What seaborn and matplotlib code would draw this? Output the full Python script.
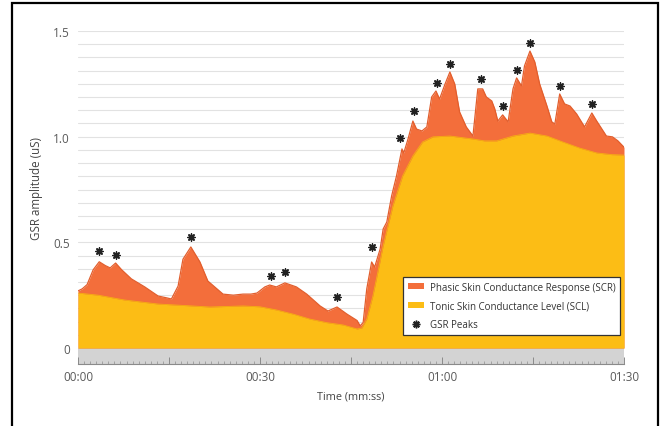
import numpy as np
import pandas as pd
import seaborn as sns
import matplotlib
matplotlib.use("Agg")
import matplotlib.pyplot as plt
from matplotlib.patches import Rectangle, Patch
from matplotlib.lines import Line2D
from matplotlib.ticker import FixedLocator, MultipleLocator, FuncFormatter

# ---------------- data ----------------
time_total = [0, 0.7, 1.5, 2.5, 3.5, 4.5, 5.3, 6.2, 7.2, 8.8, 11, 13.2, 14.5, 15.4,
              16.5, 17.3, 18.6, 20.1, 21.4, 23.9, 25.6, 27.2, 28.5, 29.5, 30.8, 31.6,
              32.7, 34.1, 36, 37.7, 39.9, 41.2, 42.7, 44.3, 46, 46.5, 47.0, 47.6, 48.4,
              48.9, 49.8, 50.3, 50.9, 51.7, 52.5, 53.4, 53.7, 54.4, 55.2, 55.8, 56.7,
              57.5, 58.3, 59, 59.6, 60.5, 61.3, 62.1, 62.9, 64, 65.1, 65.9, 66.7, 67.3,
              68.2, 68.7, 69.2, 70, 70.9, 71.7, 72.3, 73.1, 73.6, 74.5, 75.3, 76.1,
              77.3, 78.1, 78.6, 79.4, 80.2, 81.1, 82.2, 83.5, 84.7, 85.5, 87.1, 88.1,
              89, 90]
gsr_total = [0.27, 0.28, 0.30, 0.37, 0.408, 0.39, 0.379, 0.402, 0.37, 0.327, 0.289,
             0.246, 0.238, 0.232, 0.293, 0.42, 0.478, 0.407, 0.317, 0.255, 0.25, 0.255,
             0.255, 0.26, 0.289, 0.298, 0.289, 0.308, 0.289, 0.255, 0.199, 0.175, 0.194,
             0.161, 0.13, 0.105, 0.12, 0.28, 0.407, 0.383, 0.468, 0.563, 0.596, 0.72,
             0.814, 0.942, 0.923, 0.989, 1.074, 1.036, 1.027, 1.046, 1.188, 1.216, 1.178,
             1.249, 1.306, 1.249, 1.117, 1.046, 1.003, 1.226, 1.226, 1.188, 1.169, 1.131,
             1.074, 1.103, 1.07, 1.226, 1.278, 1.24, 1.335, 1.405, 1.353, 1.249, 1.145,
             1.07, 1.06, 1.202, 1.155, 1.145, 1.107, 1.046, 1.112, 1.074, 1.003, 0.999,
             0.98, 0.95]

time_tonic = [0, 3.3, 7.7, 13.2, 18.8, 21.7, 27.2, 30, 32.7, 35.5, 38.2, 41, 43.7, 46,
              46.8, 47.6, 48.6, 49.5, 50.3, 51.9, 53.5, 55.2, 56.8, 58.5, 61.3, 65.1,
              67, 69, 71.7, 74.5, 77.3, 79.9, 82.7, 85.5, 88, 90]
gsr_tonic = [0.26, 0.25, 0.227, 0.208, 0.199, 0.194, 0.199, 0.195, 0.18, 0.16, 0.137,
             0.12, 0.109, 0.09, 0.095, 0.137, 0.246, 0.37, 0.483, 0.672, 0.814, 0.909,
             0.975, 0.999, 1.003, 0.989, 0.98, 0.98, 1.003, 1.017, 1.003, 0.975, 0.946,
             0.923, 0.915, 0.913]

peak_times = [3.5, 6.2, 18.6, 31.8, 34.1, 42.7, 48.4, 53.0, 55.4, 59.1, 61.3, 66.4,
              70.0, 72.3, 74.5, 79.4, 84.8]
peak_marks = [0.459, 0.442, 0.525, 0.341, 0.36, 0.241, 0.478, 0.994, 1.12, 1.254,
              1.344, 1.273, 1.145, 1.316, 1.443, 1.24, 1.155]

x_tick_values = [0, 30, 60, 90]
x_tick_labels = ["00:00", "00:30", "01:00", "01:30"]
y_tick_values = [0, 0.5, 1.0, 1.5]
y_tick_labels = ["0", "0.5", "1.0", "1.5"]

legend_labels = ["Phasic Skin Conductance Response (SCR)",
                 "Tonic Skin Conductance Level (SCL)",
                 "GSR Peaks"]

# ---------------- style ----------------
ORANGE = "#F36E3B"
ORANGE_EDGE = "#E25E2D"
YELLOW = "#FCBD15"
TEXT = "#5a5a5a"

sns.set_theme(style="white")
plt.rcParams["font.family"] = ["Open Sans", "DejaVu Sans"]

fig = plt.figure(figsize=(6.62, 4.27), dpi=100)
ax = fig.add_axes([78 / 662, (427 - 365) / 427, 546 / 662, 333 / 427])

df_total = pd.DataFrame({"t": time_total, "v": gsr_total})
df_tonic = pd.DataFrame({"t": time_tonic, "v": gsr_tonic})
df_peaks = pd.DataFrame({"t": peak_times, "v": peak_marks})

# gridlines
for gy in np.arange(0.0625, 1.5001, 0.0625):
    ax.axhline(gy, color="#e2e2e2", lw=0.8, zorder=0)

# gray band below zero
ax.axhspan(-0.0757, 0, color="#d3d3d3", lw=0, zorder=0.5)

# areas
ax.fill_between(df_total["t"], 0, df_total["v"], color=ORANGE, lw=0, zorder=2)
sns.lineplot(data=df_total, x="t", y="v", ax=ax, color=ORANGE_EDGE, lw=0.9,
             zorder=3, sort=False)
ax.fill_between(df_tonic["t"], 0, df_tonic["v"], color=YELLOW, lw=0, zorder=4)
sns.lineplot(data=df_tonic, x="t", y="v", ax=ax, color="#F5B010", lw=0.6,
             zorder=4.5, sort=False)

# peaks
sns.scatterplot(data=df_peaks, x="t", y="v", ax=ax, marker=(8, 2, 0), s=26,
                color="#222222", linewidth=1.05, zorder=6)

ax.set_xlim(0, 90)
ax.set_ylim(-0.0757, 1.5)

# axes spines
for s in ["top", "right", "left"]:
    ax.spines[s].set_visible(False)
ax.spines["bottom"].set_color("#8a8a8a")
ax.spines["bottom"].set_linewidth(0.8)

# x ticks
ax.xaxis.set_major_locator(FixedLocator(list(range(0, 91, 15))))
ax.xaxis.set_major_formatter(FuncFormatter(
    lambda v, p: x_tick_labels[x_tick_values.index(int(round(v)))]
    if int(round(v)) in x_tick_values else ""))
ax.xaxis.set_minor_locator(MultipleLocator(1))
ax.tick_params(axis="x", which="major", direction="in", length=5, width=0.7,
               color="#8a8a8a", labelsize=8.5, labelcolor=TEXT, pad=4, bottom=True)
ax.tick_params(axis="x", which="minor", direction="in", length=2.5, width=0.6,
               color="#9a9a9a", bottom=True)

# y ticks
ax.set_yticks(y_tick_values)
ax.set_yticklabels(y_tick_labels)
ax.tick_params(axis="y", which="both", length=0, labelsize=8.5, labelcolor=TEXT, pad=6)

ax.set_xlabel("Time (mm:ss)", fontsize=7.8, color="#444444", labelpad=6)
ax.set_ylabel("GSR amplitude (uS)", fontsize=8.3, color="#444444")
ax.yaxis.set_label_coords(-0.064, 0.53)
ax.grid(False)

# legend
handles = [
    Patch(facecolor=ORANGE, edgecolor="none"),
    Patch(facecolor=YELLOW, edgecolor="none"),
    Line2D([], [], linestyle="none", marker=(8, 2, 0), markersize=5.5,
           markeredgewidth=1.1, color="#222222"),
]
leg = ax.legend(handles, legend_labels, loc="lower right",
                bbox_to_anchor=(0.993, 0.087), borderaxespad=0, fontsize=7.0,
                frameon=True, fancybox=False, edgecolor="#333333", framealpha=1,
                handlelength=1.6, handleheight=0.55, labelspacing=0.8,
                borderpad=0.5, handletextpad=0.6, labelcolor="#333333")
leg.get_frame().set_linewidth(0.9)
leg.set_zorder(10)

# outer black frame
fig.add_artist(Rectangle((12 / 662, -0.05), (658 - 12) / 662, (427 - 4) / 427 + 0.05,
                         transform=fig.transFigure, fill=False, edgecolor="black",
                         lw=1.6, clip_on=False))

fig.savefig("out.png", dpi=100)
